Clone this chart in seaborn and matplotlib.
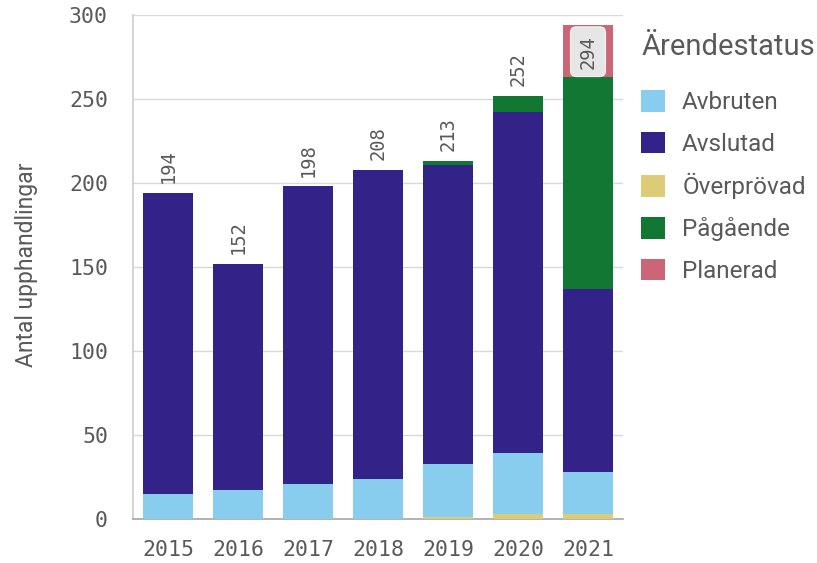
import matplotlib
matplotlib.use("Agg")
import matplotlib.pyplot as plt
from matplotlib.patches import Patch
import numpy as np
import pandas as pd
import seaborn as sns

# Procurement counts per year, split by case status
years = ["2015", "2016", "2017", "2018", "2019", "2020", "2021"]
overprovad = [0, 0, 0, 0, 1, 3, 3]
avbruten = [15, 17, 21, 24, 32, 36, 25]
avslutad = [179, 135, 177, 184, 178, 203, 109]
pagaende = [0, 0, 0, 0, 2, 10, 126]
planerad = [0, 0, 0, 0, 0, 0, 31]

legend_order = ["Avbruten", "Avslutad", "Överprövad", "Pågående", "Planerad"]
stack_order = ["Överprövad", "Avbruten", "Avslutad", "Pågående", "Planerad"]
colors = {
    "Avbruten": "#88CCEE",
    "Avslutad": "#332288",
    "Överprövad": "#DDCC77",
    "Pågående": "#117733",
    "Planerad": "#CC6677",
}

series = {
    "Överprövad": overprovad,
    "Avbruten": avbruten,
    "Avslutad": avslutad,
    "Pågående": pagaende,
    "Planerad": planerad,
}
df = pd.DataFrame(series, index=years)
cum = df[stack_order].cumsum(axis=1)
totals = df.sum(axis=1)

text_color = "#595959"
grid_color = "#d9d9d9"
mono = "DejaVu Sans Mono"

sns.set_theme(style="white")
plt.rcParams["font.family"] = ["Roboto", "DejaVu Sans"]

fig = plt.figure(figsize=(8.17, 5.63), dpi=100)
ax = fig.add_axes([133 / 817, 44 / 563, 490 / 817, 504 / 563])

# Stacked bars: draw cumulative tops from the highest layer down
for status in reversed(stack_order):
    sns.barplot(
        x=years,
        y=cum[status].values,
        color=colors[status],
        saturation=1,
        width=50 / 70,
        order=years,
        ax=ax,
        linewidth=0,
        zorder=3,
    )

ax.set_ylim(0, 300)
ax.set_xlim(-0.5, 6.5)
ax.set_yticks(np.arange(0, 301, 50))
ax.yaxis.grid(True, color=grid_color, linewidth=1, zorder=0)
ax.set_axisbelow(True)

for side in ["top", "right"]:
    ax.spines[side].set_visible(False)
ax.spines["left"].set_color("#cccccc")
ax.spines["left"].set_linewidth(1.2)
ax.spines["bottom"].set_color("#a6a6a6")
ax.spines["bottom"].set_linewidth(1.2)

ax.tick_params(axis="y", length=13, width=1, color="#cccccc", pad=5,
               labelsize=15.5, labelcolor=text_color)
ax.tick_params(axis="x", length=0, pad=15, labelsize=15.5, labelcolor=text_color)
for lab in ax.get_xticklabels() + ax.get_yticklabels():
    lab.set_fontfamily(mono)

ax.set_xlabel("")
ax.set_ylabel("Antal upphandlingar", fontsize=16.5, color=text_color)
ax.yaxis.set_label_coords((38 - 133) / 490, (519 - 265) / 504)

# Total labels above each bar; inside the bar when it reaches the top
for i, year in enumerate(years):
    total = totals[year]
    if total > 270:
        ax.annotate(
            f"{total}", xy=(i, total), xytext=(0, -7), textcoords="offset points",
            rotation=90, ha="center", va="top", fontsize=13.5, family=mono,
            color=text_color, zorder=5,
            bbox=dict(boxstyle="round,pad=0.42,rounding_size=0.3",
                      facecolor="#e6e6e6", edgecolor="#f0f0f0", linewidth=1),
        )
    else:
        ax.annotate(
            f"{total}", xy=(i, total), xytext=(0, 7), textcoords="offset points",
            rotation=90, ha="center", va="bottom", fontsize=13.5, family=mono,
            color=text_color, zorder=5,
        )

# Legend title and entries
fig.text(642 / 817, 1 - 47 / 563, "Ärendestatus", fontsize=21,
         color=text_color, ha="left", va="center")

handles = [Patch(facecolor=colors[s], edgecolor="none", label=s) for s in legend_order]
leg = fig.legend(
    handles=handles,
    loc="upper left",
    bbox_to_anchor=(619 / 817, 1 - 68 / 563),
    frameon=False,
    fontsize=17.5,
    handlelength=1.0,
    handleheight=1.0,
    handletextpad=0.7,
    labelspacing=0.72,
)
for t in leg.get_texts():
    t.set_color(text_color)

fig.savefig("out.png", dpi=100)
